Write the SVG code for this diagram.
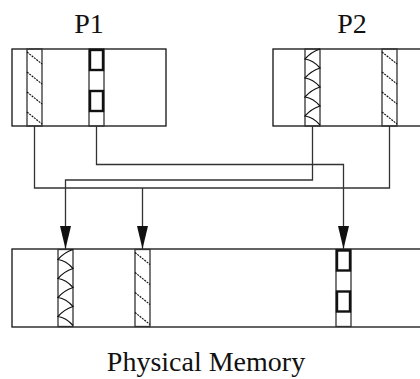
<svg xmlns="http://www.w3.org/2000/svg" width="420" height="379" viewBox="0 0 420 379">
<style>
.lbl{font-family:"Liberation Serif","Times New Roman",serif;font-size:28px;fill:#111;text-anchor:middle}
.box{fill:#fff;stroke:#111;stroke-width:1.3}
.strip{fill:none;stroke:#333;stroke-width:1.3}
.hatch{fill:none;stroke:#111;stroke-width:1.2;stroke-dasharray:2 1}
.scal{fill:none;stroke:#111;stroke-width:1.2}
.sq{fill:none;stroke:#111;stroke-width:2.4}
.conn{fill:none;stroke:#333;stroke-width:1.3}
</style>
<defs>
<marker id="arr" markerUnits="userSpaceOnUse" markerWidth="23" markerHeight="12" refX="23" refY="6" orient="auto" viewBox="0 0 23 12">
<path d="M0,0.5 L23,6 L0,11.5 Z" fill="#111"/>
</marker>
<g id="hatchStrip">
<rect class="strip" x="0" y="0" width="15" height="77"/>
<path class="hatch" d="M0,3 L15,15 M0,23 L15,35 M0,43 L15,55 M0,63 L15,75"/>
</g>
<g id="scalStrip">
<rect class="strip" x="0" y="0" width="15" height="77"/>
<path class="scal" d="M15,0 Q6,3 0,10 Q8,11 15,19 Q6,22 0,29 Q8,30 15,38 Q6,41 0,48 Q8,49 15,57 Q6,60 0,67 Q8,68 15,76"/>
</g>
<g id="sqStrip">
<rect class="strip" x="0" y="0" width="15" height="77"/>
<rect class="sq" x="1" y="1" width="13" height="20"/>
<rect class="sq" x="1" y="42" width="13" height="20"/>
</g>
</defs>

<g id="P1">
<text class="lbl" x="89" y="33">P1</text>
<rect class="box" x="12" y="49" width="154" height="77"/>
<use href="#hatchStrip" x="27" y="49"/>
<use href="#sqStrip" x="89" y="49"/>
</g>

<g id="P2">
<text class="lbl" x="352" y="33">P2</text>
<rect class="box" x="273" y="49" width="160" height="77"/>
<use href="#scalStrip" x="305" y="49"/>
<use href="#hatchStrip" x="382" y="49"/>
</g>

<g id="memory">
<rect class="box" x="12" y="249" width="421" height="78"/>
<use href="#scalStrip" x="58" y="249.5"/>
<use href="#hatchStrip" x="135" y="249.5"/>
<use href="#sqStrip" x="336" y="249.5"/>
<text class="lbl" x="206" y="371">Physical Memory</text>
</g>

<g id="connectors">
<path class="conn" d="M34.5,126 V188 H389.5 V126"/>
<path class="conn" d="M142.5,188 V249" marker-end="url(#arr)"/>
<path class="conn" d="M96.5,126 V164.5 H343.5 V249" marker-end="url(#arr)"/>
<path class="conn" d="M312.5,126 V180 H65.5 V249" marker-end="url(#arr)"/>
</g>
</svg>
